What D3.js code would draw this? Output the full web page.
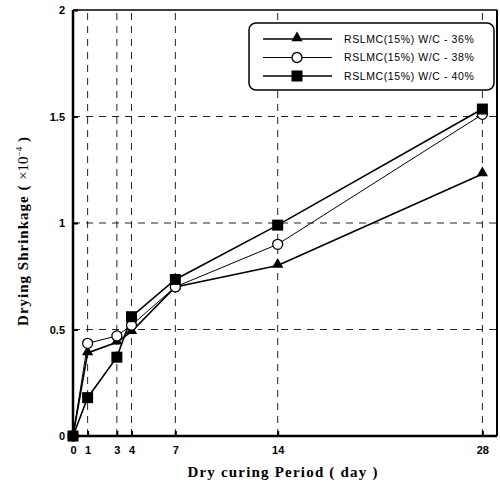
<!DOCTYPE html>
<html>
<head>
<meta charset="utf-8">
<script src="https://cdn.jsdelivr.net/npm/d3@7"></script>
<style>
    body { margin: 0; background: white; }
    svg { display: block; }
</style>
</head>
<body>
<div id="chart"></div>
<script>
// Data
const days = [0, 1, 3, 4, 7, 14, 28];
const xTicks = [0, 1, 3, 4, 7, 14, 28];
const yTicks = [0, 0.5, 1, 1.5, 2];
const seriesNames = ["RSLMC(15%) W/C - 36%", "RSLMC(15%) W/C - 38%", "RSLMC(15%) W/C - 40%"];
const wc36 = [0, 0.39, 0.44, 0.49, 0.70, 0.80, 1.23];
const wc38 = [0, 0.435, 0.47, 0.52, 0.70, 0.90, 1.51];
const wc40 = [0, 0.18, 0.37, 0.56, 0.735, 0.99, 1.535];
const markers = ["triangle", "circle", "square"];
const lineWidths = [1.6, 1, 1.6];

const width = 500, height = 487;
const margin = { left: 73, right: 3, top: 10, bottom: 51 };

const svg = d3.select("#chart")
    .append("svg")
    .attr("width", width)
    .attr("height", height);

const xScale = d3.scaleLinear()
    .domain([0, 29])
    .range([margin.left, width - margin.right]);

const yScale = d3.scaleLinear()
    .domain([0, 2])
    .range([height - margin.bottom, margin.top]);

// gitterlinier
svg.append("g")
    .selectAll("line")
    .data(xTicks.filter(d => d > 0))
    .enter()
    .append("line")
    .attr("x1", d => xScale(d))
    .attr("x2", d => xScale(d))
    .attr("y1", yScale(0))
    .attr("y2", yScale(2))
    .attr("stroke", "#222")
    .attr("stroke-width", 1)
    .attr("stroke-dasharray", "7,6");

svg.append("g")
    .selectAll("line")
    .data(yTicks.filter(d => d > 0 && d < 2))
    .enter()
    .append("line")
    .attr("x1", xScale(0))
    .attr("x2", xScale(29))
    .attr("y1", d => yScale(d))
    .attr("y2", d => yScale(d))
    .attr("stroke", "#222")
    .attr("stroke-width", 1)
    .attr("stroke-dasharray", "7,6");

// akser
const xAxis = d3.axisBottom(xScale)
    .tickValues(xTicks)
    .tickSize(-5)
    .tickPadding(10)
    .tickFormat(d3.format("d"));

const yAxis = d3.axisLeft(yScale)
    .tickValues(yTicks)
    .tickSize(-5)
    .tickPadding(8)
    .tickFormat(d => d);

const gx = svg.append("g")
    .attr("transform", `translate(0, ${yScale(0)})`)
    .call(xAxis);
const gy = svg.append("g")
    .attr("transform", `translate(${xScale(0)}, 0)`)
    .call(yAxis);

[gx, gy].forEach(g => {
    g.select(".domain").remove();
    g.selectAll(".tick line").attr("stroke", "#000").attr("stroke-width", 2);
    g.selectAll("text")
        .attr("fill", "#000")
        .attr("font-family", "Liberation Sans, Arial, sans-serif")
        .attr("font-weight", "bold")
        .attr("font-size", 11);
});
gy.selectAll("text").attr("dy", "0.35em");

// ramme
svg.append("line")
    .attr("x1", xScale(0)).attr("x2", xScale(29))
    .attr("y1", yScale(0)).attr("y2", yScale(0))
    .attr("stroke", "#000").attr("stroke-width", 2.5);
svg.append("line")
    .attr("x1", xScale(0)).attr("x2", xScale(0))
    .attr("y1", yScale(0)).attr("y2", yScale(2))
    .attr("stroke", "#000").attr("stroke-width", 2.5);
svg.append("line")
    .attr("x1", xScale(0)).attr("x2", xScale(29))
    .attr("y1", yScale(2)).attr("y2", yScale(2))
    .attr("stroke", "#000").attr("stroke-width", 1.5);
svg.append("line")
    .attr("x1", xScale(29)).attr("x2", xScale(29))
    .attr("y1", yScale(0)).attr("y2", yScale(2))
    .attr("stroke", "#000").attr("stroke-width", 2);

// akse titler
svg.append("text")
    .attr("x", 283)
    .attr("y", 477)
    .attr("text-anchor", "middle")
    .attr("font-family", "Liberation Serif, Times New Roman, serif")
    .attr("font-weight", "bold")
    .attr("font-size", 15)
    .attr("letter-spacing", 1.2)
    .text("Dry curing Period ( day )");

const yTitle = svg.append("text")
    .attr("transform", "translate(28, 231) rotate(-90)")
    .attr("text-anchor", "middle")
    .attr("font-family", "Liberation Serif, Times New Roman, serif")
    .attr("font-weight", "bold")
    .attr("font-size", 15)
    .attr("letter-spacing", 1);
yTitle.append("tspan").text("Drying Shrinkage ( ");
yTitle.append("tspan").attr("font-weight", "normal").attr("letter-spacing", 0).text("×10");
yTitle.append("tspan").attr("font-weight", "normal").attr("font-size", 9).attr("dy", -6).attr("letter-spacing", 0).text("−4");
yTitle.append("tspan").attr("dy", 6).text(" )");

// markører
function drawMarker(g, type, x, y) {
    if (type == "triangle") {
        g.append("path")
            .attr("d", d3.symbol().type(d3.symbolTriangle).size(55)())
            .attr("transform", `translate(${x}, ${y - 1})`)
            .attr("fill", "#000");
    } else if (type == "circle") {
        g.append("circle")
            .attr("cx", x).attr("cy", y).attr("r", 5)
            .attr("fill", "white").attr("stroke", "#000").attr("stroke-width", 1.3);
    } else {
        g.append("rect")
            .attr("x", x - 5.5).attr("y", y - 5.5)
            .attr("width", 11).attr("height", 11)
            .attr("fill", "#000");
    }
}

const allSeries = [wc36, wc38, wc40];
const line = d3.line()
    .x((d, i) => xScale(days[i]))
    .y(d => yScale(d));

allSeries.forEach((values, s) => {
    svg.append("path")
        .datum(values)
        .attr("d", line)
        .attr("fill", "none")
        .attr("stroke", "#000")
        .attr("stroke-width", lineWidths[s]);
});
allSeries.forEach((values, s) => {
    const g = svg.append("g");
    values.forEach((v, i) => drawMarker(g, markers[s], xScale(days[i]), yScale(v)));
});

// legende
const legend = svg.append("g");
legend.append("rect")
    .attr("x", 249).attr("y", 23)
    .attr("width", 245).attr("height", 67)
    .attr("rx", 7)
    .attr("fill", "white")
    .attr("stroke", "#000")
    .attr("stroke-width", 1.5);

seriesNames.forEach((name, s) => {
    const ly = 39 + s * 18.5;
    legend.append("line")
        .attr("x1", 263).attr("x2", 332)
        .attr("y1", ly).attr("y2", ly)
        .attr("stroke", "#000")
        .attr("stroke-width", lineWidths[s]);
    drawMarker(legend, markers[s], 297, ly);
    legend.append("text")
        .attr("x", 344)
        .attr("y", ly)
        .attr("dy", "0.35em")
        .attr("font-family", "Liberation Sans, Arial, sans-serif")
        .attr("font-size", 10.5)
        .attr("letter-spacing", 0.6)
        .attr("fill", "#000")
        .text(name);
});
</script>
</body>
</html>
